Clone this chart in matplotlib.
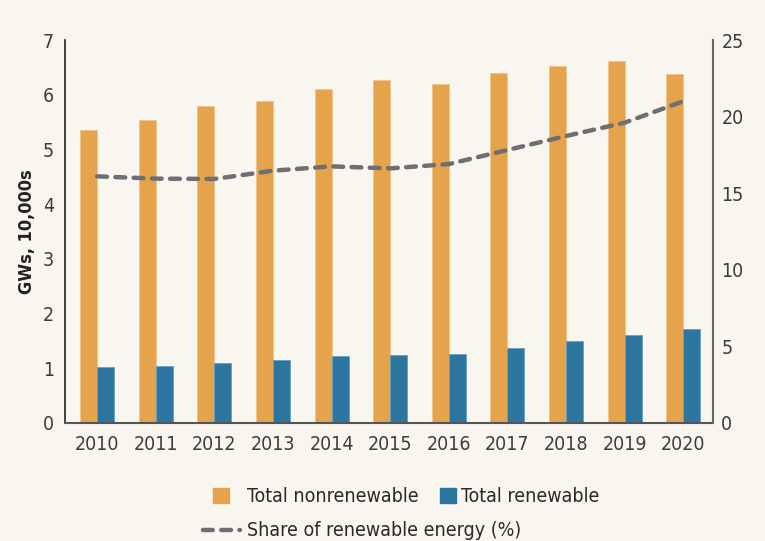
import numpy as np
import matplotlib.pyplot as plt
from matplotlib.patches import Patch
from matplotlib.lines import Line2D

# Electricity generation by source, 2010-2020
years = ['2010', '2011', '2012', '2013', '2014', '2015', '2016', '2017', '2018', '2019', '2020']
nonrenewable = [5.36, 5.53, 5.79, 5.89, 6.11, 6.26, 6.20, 6.39, 6.53, 6.61, 6.37]
renewable = [1.02, 1.05, 1.10, 1.15, 1.22, 1.24, 1.27, 1.37, 1.50, 1.61, 1.72]
share_pct = [16.1, 15.95, 15.93, 16.47, 16.75, 16.62, 16.9, 17.82, 18.73, 19.6, 21.0]

bg = '#f9f5ef'
orange = '#e5a44c'
blue = '#2c76a0'
grey_line = '#6e6f72'
text_col = '#3d3d3d'

plt.rcParams['font.family'] = ['DejaVu Sans']
plt.rcParams['font.stretch'] = 'condensed'

fig = plt.figure(figsize=(7.65, 5.41), dpi=100, facecolor=bg)
ax = fig.add_axes([65 / 765, 1 - 423 / 541, (713 - 65) / 765, (423 - 40) / 541])
ax.set_facecolor(bg)

x = np.arange(len(years))
w = 0.29
ax.bar(x - w / 2, nonrenewable, width=w, color=orange, edgecolor='#efc48a', linewidth=0.6)
ax.bar(x + w / 2, renewable, width=w, color=blue, edgecolor='#6a9fc0', linewidth=0.6)

ax.set_xlim(-0.55, 10.51)
ax.set_ylim(0, 7)
ax.set_yticks(range(0, 8))
ax.set_xticks(x)
ax.set_xticklabels(years)
ax.tick_params(axis='both', length=0, labelsize=14, colors=text_col)
ax.tick_params(axis='y', pad=8)
ax.tick_params(axis='x', pad=9)
ax.set_ylabel('GWs, 10,000s', fontsize=13, fontweight='bold', color='#222222', labelpad=5)

for s in ['top', 'right']:
    ax.spines[s].set_visible(False)
ax.spines['left'].set_color('#333333')
ax.spines['bottom'].set_color('#555555')
ax.spines['left'].set_linewidth(1.3)
ax.spines['bottom'].set_linewidth(1.5)

# renewable share on the secondary axis
ax2 = ax.twinx()
ax2.plot(x, share_pct, color=grey_line, linewidth=3.2, linestyle=(0, (2.2, 1.9)),
         dash_capstyle='round')
ax2.set_ylim(0, 25)
ax2.set_yticks(range(0, 26, 5))
ax2.tick_params(axis='y', length=0, labelsize=14, colors=text_col, pad=6)
for s in ['top', 'left', 'bottom']:
    ax2.spines[s].set_visible(False)
ax2.spines['right'].set_color('#666666')
ax2.spines['right'].set_linewidth(1.5)
ax2.set_ylabel('Percent', fontsize=13, fontweight='bold', color='#222222', labelpad=20)

# legend rows
fs = 14
leg_kw = dict(frameon=False, fontsize=fs, loc='center left', borderpad=0, borderaxespad=0,
              labelcolor='#2a2a2a')
l1 = fig.legend([Patch(color=orange)], ['Total nonrenewable'], handlelength=0.82,
                handleheight=0.82, handletextpad=0.93,
                bbox_to_anchor=(213 / 765, 1 - 497 / 541), **leg_kw)
l2 = fig.legend([Patch(color=blue)], ['Total renewable'], handlelength=0.82,
                handleheight=0.82, handletextpad=0.26,
                bbox_to_anchor=(440 / 765, 1 - 497 / 541), **leg_kw)
l3 = fig.legend([Line2D([0], [0], color=grey_line, linewidth=3.2,
                        linestyle=(0, (2.2, 1.9)), dash_capstyle='round')],
                ['Share of renewable energy (%)'], handlelength=1.9, handletextpad=0.36,
                bbox_to_anchor=(203 / 765, 1 - 531 / 541), **leg_kw)

fig.savefig('out.png', dpi=100, facecolor=bg)
